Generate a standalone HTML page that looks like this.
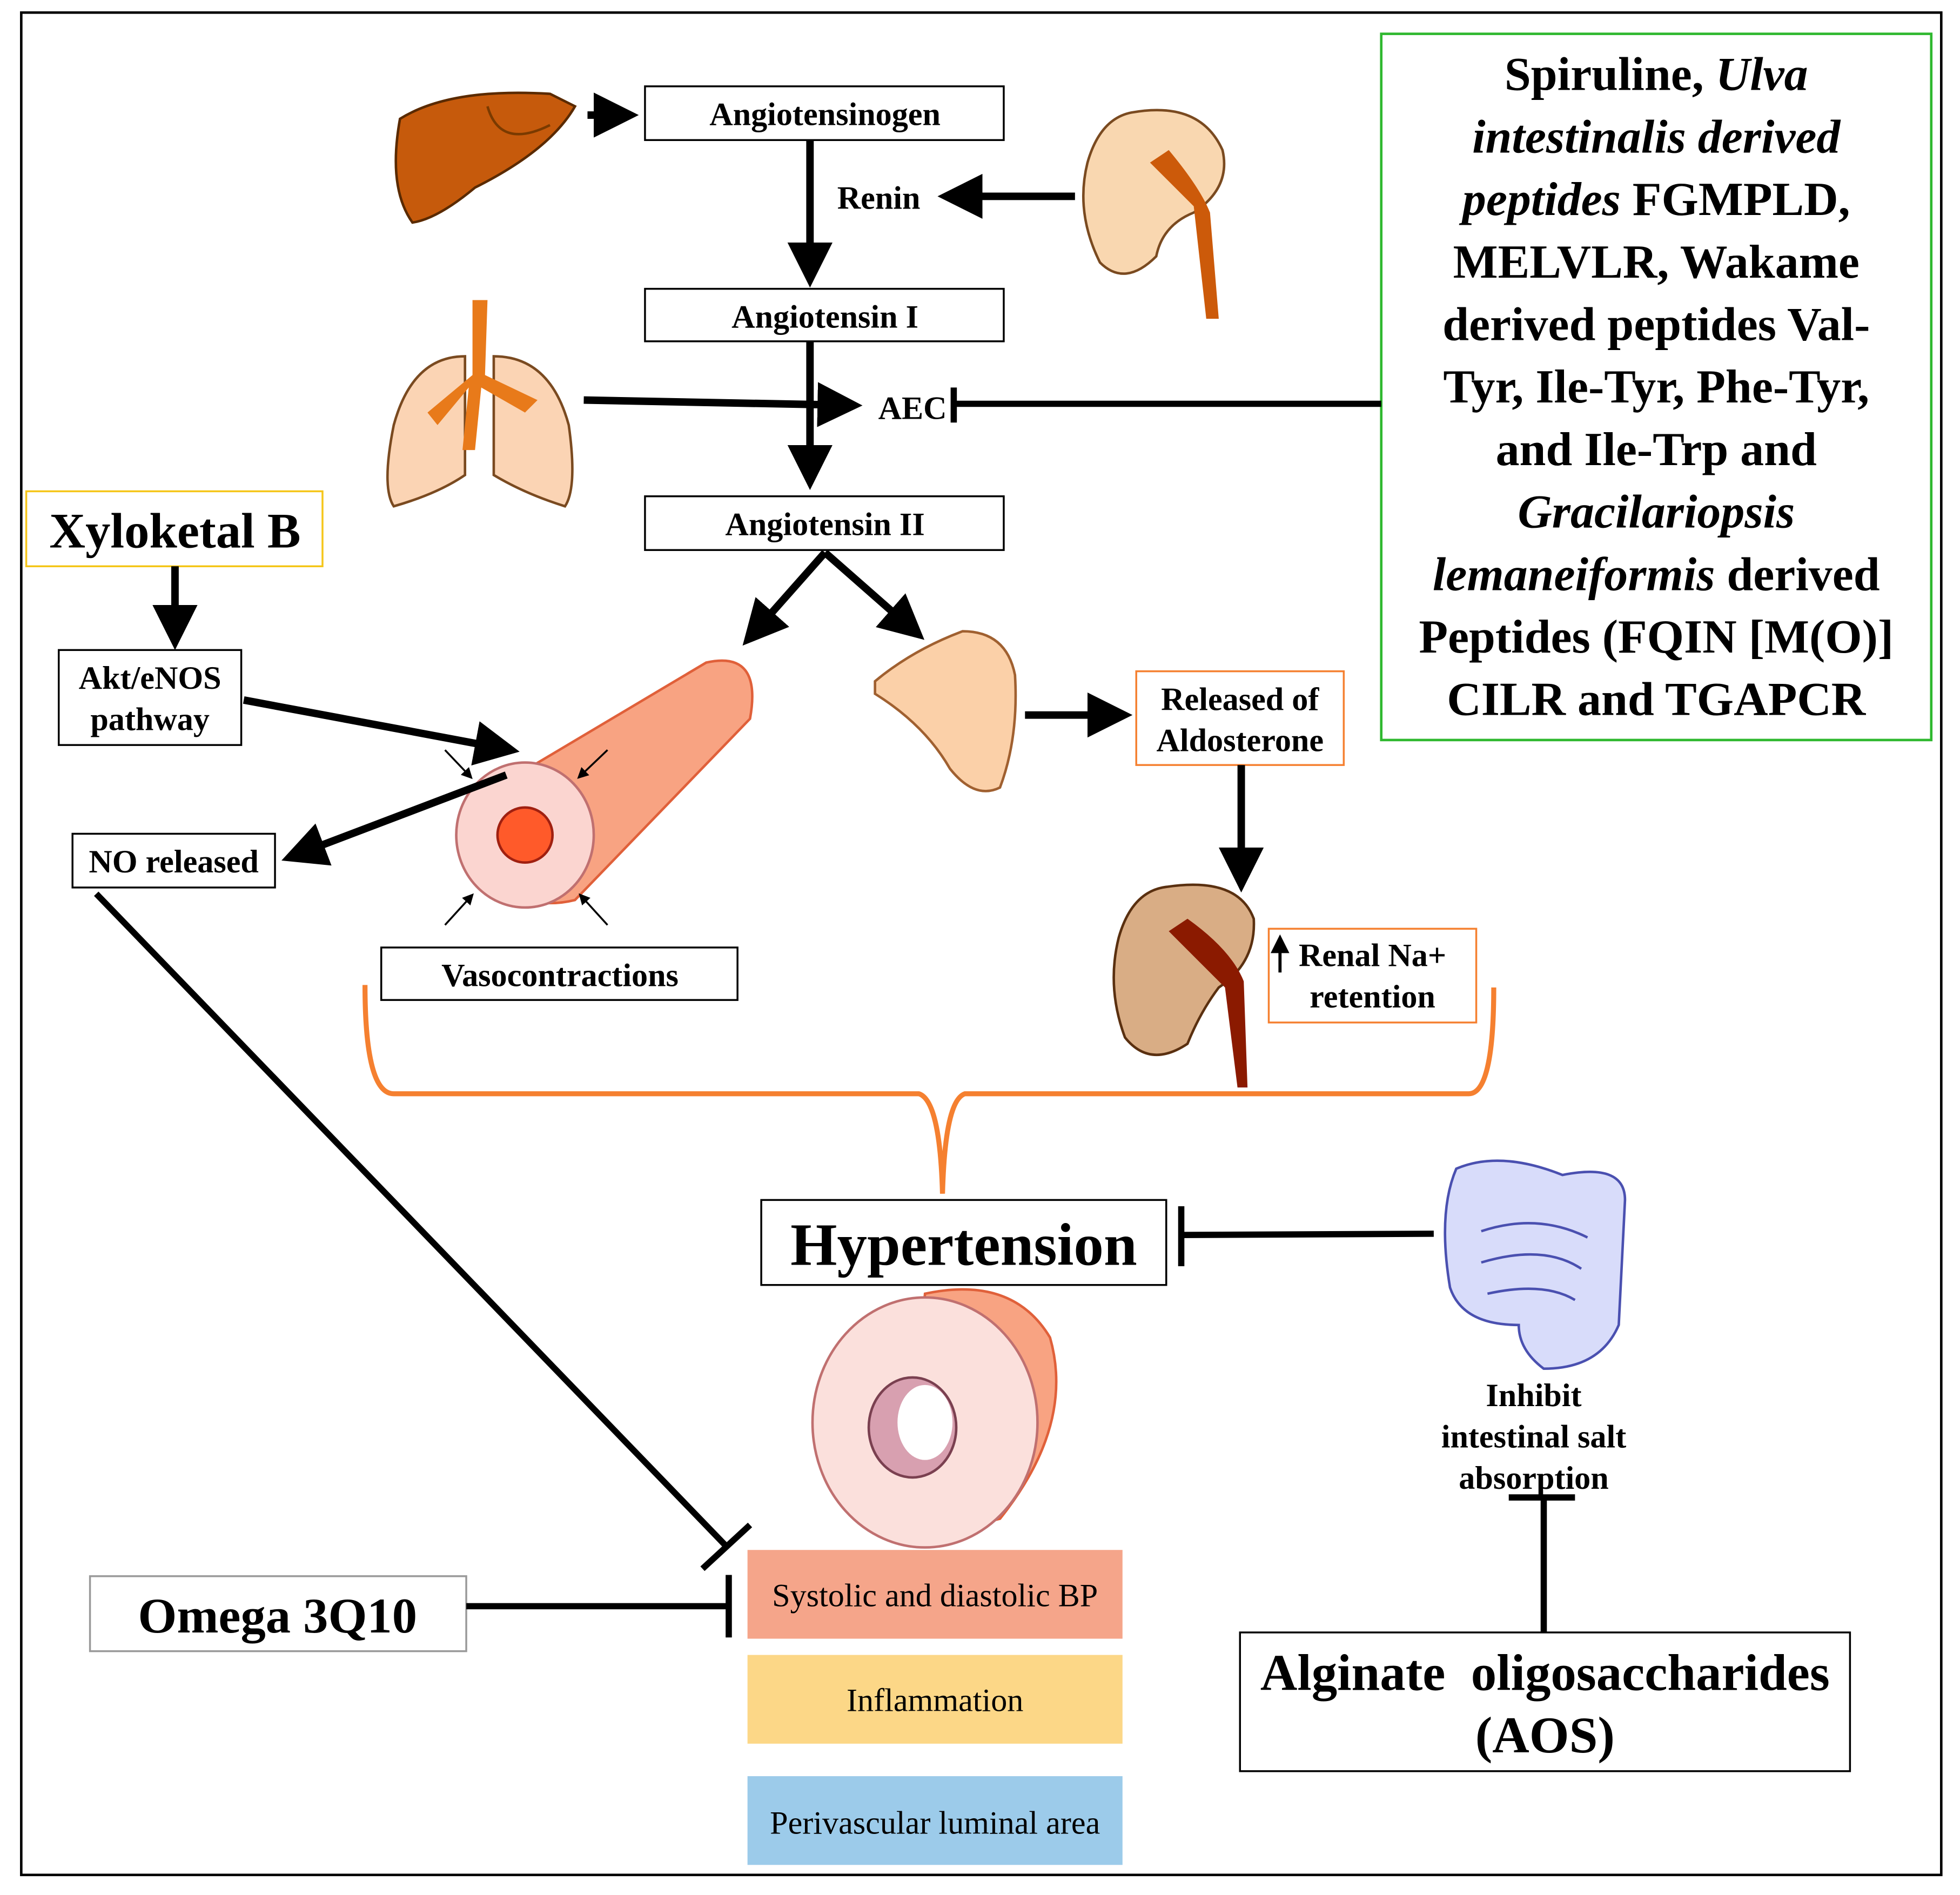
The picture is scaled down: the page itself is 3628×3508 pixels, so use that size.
<!DOCTYPE html>
<html><head><meta charset="utf-8"><style>
html,body{margin:0;padding:0;background:#fff}
svg{display:block}
text{font-family:"Liberation Serif",serif;font-weight:bold;fill:#000}
</style></head><body>
<svg width="3628" height="3508" viewBox="0 0 1568 1516" xmlns="http://www.w3.org/2000/svg">
<defs>
<marker id="ah" markerWidth="6" markerHeight="6" refX="3" refY="3" orient="auto" markerUnits="strokeWidth">
<path d="M0,0 L6,3 L0,6 z" fill="#000"/></marker>
</defs>
<rect width="1568" height="1516" fill="#fff"/>
<rect x="17" y="10" width="1536" height="1490" fill="none" stroke="#000" stroke-width="2"/>

<rect x="1105" y="27" width="440" height="565" fill="none" stroke="#2fb82f" stroke-width="2"/>
<g font-size="38" text-anchor="middle">
<text x="1325" y="72">Spiruline, <tspan font-style="italic">Ulva</tspan></text>
<text x="1325" y="122" font-style="italic">intestinalis derived</text>
<text x="1325" y="172"><tspan font-style="italic">peptides</tspan> FGMPLD,</text>
<text x="1325" y="222">MELVLR, Wakame</text>
<text x="1325" y="272">derived peptides Val-</text>
<text x="1325" y="322">Tyr, Ile-Tyr, Phe-Tyr,</text>
<text x="1325" y="372">and Ile-Trp and</text>
<text x="1325" y="422" font-style="italic">Gracilariopsis</text>
<text x="1325" y="472"><tspan font-style="italic">lemaneiformis</tspan> derived</text>
<text x="1325" y="522">Peptides (FQIN [M(O)]</text>
<text x="1325" y="572">CILR and TGAPCR</text>
</g>

<path d="M320,95 Q360,70 440,75 L460,85 Q440,120 380,150 Q350,175 330,178 Q310,150 320,95z" fill="#c65a0c" stroke="#5a2a00" stroke-width="2"/>
<path d="M390,85 Q400,120 440,100" fill="none" stroke="#7a3a00" stroke-width="2"/>
<path d="M905,90 Q960,80 978,120 Q985,150 955,170 Q930,180 925,205 Q900,230 880,210 Q860,170 870,130 Q880,95 905,90z" fill="#f9d7b0" stroke="#7a4a20" stroke-width="2"/>
<path d="M920,130 L955,165 L965,255 L975,255 L968,170 Q960,150 935,120z" fill="#cc5a0a"/>
<path d="M372,285 Q330,285 315,340 Q305,390 315,405 Q350,395 372,380z" fill="#fbd4b4" stroke="#7a4a20" stroke-width="2"/>
<path d="M395,285 Q440,285 455,340 Q462,390 452,405 Q420,395 395,380z" fill="#fbd4b4" stroke="#7a4a20" stroke-width="2"/>
<path d="M378,240 L390,240 L388,300 L430,320 L420,330 L385,310 L380,360 L370,360 L375,310 L350,340 L342,330 L378,300z" fill="#e87a1a"/>
<path d="M700,545 Q730,520 770,505 Q805,505 812,540 Q815,590 800,630 Q780,640 760,615 Q740,580 700,555z" fill="#fbd0a8" stroke="#a06030" stroke-width="2"/>
<path d="M930,710 Q990,700 1003,735 Q1005,770 975,790 Q960,810 950,835 Q920,855 900,830 Q885,790 895,750 Q905,715 930,710z" fill="#d9ad85" stroke="#5a3010" stroke-width="2"/>
<path d="M935,745 L980,790 L990,870 L998,870 L995,785 Q985,760 950,735z" fill="#8b1a00"/>
<path d="M1165,935 Q1200,920 1250,940 Q1300,930 1300,960 L1295,1060 Q1280,1095 1235,1095 Q1215,1080 1215,1060 Q1170,1060 1160,1030 Q1150,970 1165,935z" fill="#d8dcfa" stroke="#4a50b0" stroke-width="2"/>
<path d="M1185,985 Q1230,970 1270,990 M1185,1010 Q1235,995 1265,1015 M1190,1035 Q1235,1025 1260,1040" fill="none" stroke="#4a50b0" stroke-width="2"/>

<path d="M380,640 L565,530 Q610,520 600,575 L460,720 Q420,730 380,700z" fill="#f8a382" stroke="#e0603a" stroke-width="2"/>
<ellipse cx="420" cy="668" rx="55" ry="58" fill="#fbd5d0" stroke="#c07070" stroke-width="2"/>
<circle cx="420" cy="668" r="22" fill="#ff5a2a" stroke="#a02010" stroke-width="2"/>
<g stroke="#000" stroke-width="1.5" marker-end="url(#ah)"><line x1="356" y1="600" x2="375" y2="620"/><line x1="486" y1="600" x2="465" y2="620"/><line x1="356" y1="740" x2="376" y2="718"/><line x1="486" y1="740" x2="466" y2="718"/></g>

<path d="M740,1035 Q810,1020 840,1070 Q860,1140 800,1215 L720,1235z" fill="#f8a382" stroke="#e0603a" stroke-width="2"/>
<ellipse cx="740" cy="1138" rx="90" ry="100" fill="#fbe0dc" stroke="#c07070" stroke-width="2"/>
<ellipse cx="730" cy="1142" rx="35" ry="40" fill="#d8a0b0" stroke="#7a4050" stroke-width="2"/>
<ellipse cx="740" cy="1138" rx="22" ry="30" fill="#fff"/>

<g fill="#fff" stroke="#000" stroke-width="1.5">
<rect x="516" y="69" width="287" height="43"/>
<rect x="516" y="231" width="287" height="42"/>
<rect x="516" y="397" width="287" height="43"/>
<rect x="47" y="520" width="146" height="76"/>
<rect x="58" y="667" width="162" height="43"/>
<rect x="305" y="758" width="285" height="42"/>
<rect x="609" y="960" width="324" height="68"/>
<rect x="992" y="1306" width="488" height="111"/>
</g>
<rect x="21" y="393" width="237" height="60" fill="#fff" stroke="#f5c518" stroke-width="1.5"/>
<rect x="909" y="537" width="166" height="75" fill="#fff" stroke="#f58030" stroke-width="1.5"/>
<rect x="1015" y="743" width="166" height="75" fill="#fff" stroke="#f58030" stroke-width="1.5"/>
<rect x="72" y="1261" width="301" height="60" fill="#fff" stroke="#999" stroke-width="1.5"/>
<rect x="598" y="1240" width="300" height="71" fill="#f5a58a"/>
<rect x="598" y="1324" width="300" height="71" fill="#fcd787"/>
<rect x="598" y="1421" width="300" height="71" fill="#9ccbea"/>

<g font-size="26" text-anchor="middle">
<text x="660" y="100">Angiotensinogen</text>
<text x="703" y="167">Renin</text>
<text x="660" y="262">Angiotensin I</text>
<text x="730" y="335">AEC</text>
<text x="660" y="428">Angiotensin II</text>
<text x="120" y="551">Akt/eNOS</text>
<text x="120" y="584">pathway</text>
<text x="139" y="698">NO released</text>
<text x="448" y="789">Vasocontractions</text>
<text x="992" y="568">Released of</text>
<text x="992" y="601">Aldosterone</text>
<text x="1098" y="773">Renal Na+</text>
<text x="1098" y="806">retention</text>
<text x="1227" y="1125">Inhibit</text>
<text x="1227" y="1158">intestinal salt</text>
<text x="1227" y="1191">absorption</text>
</g>
<g font-size="26" text-anchor="middle">
<text x="748" y="1285" style="font-weight:normal">Systolic and diastolic BP</text>
<text x="748" y="1369" style="font-weight:normal">Inflammation</text>
<text x="748" y="1467" style="font-weight:normal">Perivascular luminal area</text>
</g>
<text x="140" y="438" font-size="40" text-anchor="middle">Xyloketal B</text>
<text x="771" y="1012" font-size="48" text-anchor="middle">Hypertension</text>
<text x="222" y="1306" font-size="40" text-anchor="middle">Omega 3Q10</text>
<text x="1236" y="1352" font-size="41" text-anchor="middle" xml:space="preserve">Alginate  oligosaccharides</text>
<text x="1236" y="1402" font-size="41" text-anchor="middle">(AOS)</text>

<g stroke="#000" stroke-width="6" fill="none" marker-end="url(#ah)">
<line x1="470" y1="92" x2="493" y2="92"/>
<line x1="648" y1="112" x2="648" y2="212"/>
<line x1="860" y1="157" x2="768" y2="157"/>
<line x1="648" y1="273" x2="648" y2="374"/>
<line x1="467" y1="320" x2="672" y2="324"/>
<line x1="660" y1="442" x2="606" y2="503"/>
<line x1="660" y1="442" x2="726" y2="500"/>
<line x1="140" y1="453" x2="140" y2="502"/>
<line x1="195" y1="560" x2="398" y2="598"/>
<line x1="405" y1="620" x2="242" y2="682"/>
<line x1="820" y1="572" x2="888" y2="572"/>
<line x1="993" y1="612" x2="993" y2="696"/>
</g>
<g stroke="#000" stroke-width="2.5" marker-end="url(#ah)"><line x1="1024" y1="778" x2="1024" y2="755"/></g>
<g stroke="#000" stroke-width="5" fill="none">
<line x1="1105" y1="323" x2="763" y2="323"/><line x1="763" y1="310" x2="763" y2="338"/>
<line x1="1147" y1="987" x2="945" y2="988"/><line x1="945" y1="965" x2="945" y2="1013"/>
<line x1="1235" y1="1306" x2="1235" y2="1198"/><line x1="1207" y1="1198" x2="1260" y2="1198"/>
<line x1="373" y1="1285" x2="583" y2="1285"/><line x1="583" y1="1260" x2="583" y2="1310"/>
<line x1="77" y1="715" x2="581" y2="1237"/><line x1="562" y1="1255" x2="600" y2="1220"/>
</g>
<path d="M292,788 Q292,875 315,875 L735,875 Q752,880 754,955 Q756,880 772,875 L1175,875 Q1195,875 1195,790" fill="none" stroke="#f58030" stroke-width="4"/>
</svg>
</body></html>
